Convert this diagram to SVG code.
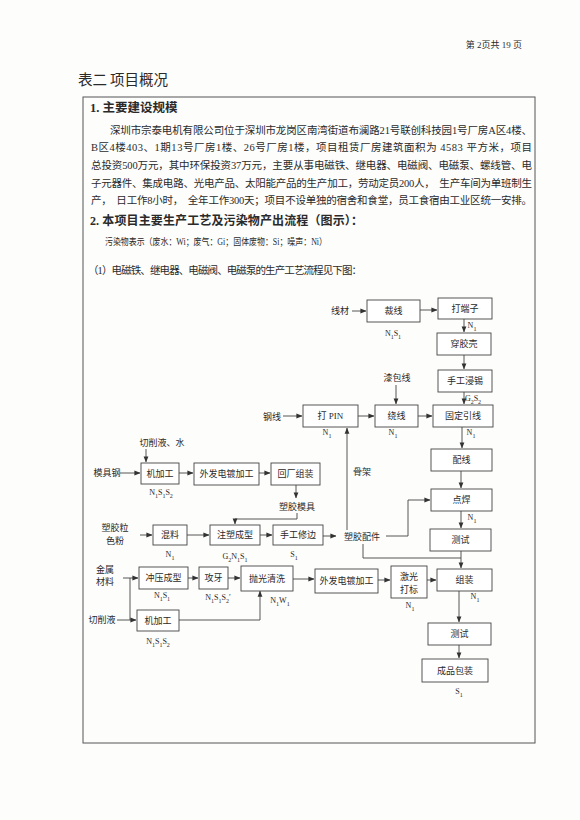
<svg xmlns="http://www.w3.org/2000/svg" width="580" height="820" viewBox="0 0 580 820">
<style>
text{font-family:"Liberation Serif","Noto Sans CJK SC",serif;fill:#2a2a2a}
.t{font-size:9px;text-anchor:middle}
.l{font-size:8px;text-anchor:middle}
.s{font-size:6px;baseline-shift:sub}
.b{fill:#fff;stroke:#444;stroke-width:0.9}
.c{fill:none;stroke:#444;stroke-width:0.9}
.a{marker-end:url(#ah)}
.p{font-size:10.5px}
</style>
<defs>
<marker id="ah" viewBox="0 0 8 8" refX="7.5" refY="4" markerWidth="6" markerHeight="6" orient="auto" markerUnits="userSpaceOnUse">
<path d="M0,0.8 L8,4 L0,7.2 Z" fill="#333"/>
</marker>
</defs>
<rect width="580" height="820" fill="#fdfdfc"/>
<text x="522" y="48" font-size="9" text-anchor="end">第 2页共 19 页</text>
<text x="78" y="85" font-size="14.5">表二</text>
<text x="110" y="85" font-size="14.5">项目概况</text>
<rect x="83" y="97" width="452" height="646" fill="none" stroke="#555" stroke-width="1"/>
<text x="90" y="112" font-size="12.5" font-weight="bold">1. 主要建设规模</text>
<text class="p" x="110" y="134" textLength="422" lengthAdjust="spacing">深圳市宗泰电机有限公司位于深圳市龙岗区南湾街道布澜路21号联创科技园1号厂房A区4楼、</text>
<text class="p" x="91" y="151" textLength="441" lengthAdjust="spacing">B区4楼403、1期13号厂房1楼、26号厂房1楼，项目租赁厂房建筑面积为 4583 平方米，项目</text>
<text class="p" x="91" y="169" textLength="441" lengthAdjust="spacing">总投资500万元，其中环保投资37万元，主要从事电磁铁、继电器、电磁阀、电磁泵、螺线管、电</text>
<text class="p" x="91" y="187" textLength="441" lengthAdjust="spacing" xml:space="preserve">子元器件、集成电路、光电产品、太阳能产品的生产加工，劳动定员200人，  生产车间为单班制生</text>
<text class="p" x="91" y="204" textLength="441" lengthAdjust="spacing" xml:space="preserve">产，  日工作8小时，  全年工作300天；项目不设单独的宿舍和食堂，员工食宿由工业区统一安排。</text>
<text x="90" y="225" font-size="12" font-weight="bold" textLength="273" lengthAdjust="spacing">2. 本项目主要生产工艺及污染物产出流程（图示）：</text>
<text x="105" y="245" font-size="9.5" textLength="222" lengthAdjust="spacingAndGlyphs">污染物表示（废水：Wi；废气：Gi；固体废物：Si；噪声：Ni）</text>
<text x="88" y="274" font-size="10.5" textLength="274" lengthAdjust="spacing">（1）电磁铁、继电器、电磁阀、电磁泵的生产工艺流程见下图：</text>

<g id="connectors">
<path class="c a" d="M352 311 H366"/>
<path class="c a" d="M420 310 H437"/>
<path class="c a" d="M464 319 V332"/>
<path class="c a" d="M464 355 V369"/>
<path class="c a" d="M464 392 V404"/>
<path class="c a" d="M396 385 V404"/>
<path class="c a" d="M418 416 H432"/>
<path class="c a" d="M358 416 H374"/>
<path class="c a" d="M283 416 H302"/>
<path class="c a" d="M462 427 V448"/>
<path class="c a" d="M461 471 V488"/>
<path class="c a" d="M461 511 V528"/>
<path class="c a" d="M461 551 V568"/>
<path class="c" d="M363 544 V558 H461"/>
<path class="c a" d="M386 536 H408 V500 H430"/>
<path class="c a" d="M347 530 V428"/>
<path class="c a" d="M323 536 H336"/>
<path class="c a" d="M120 473 H140"/>
<path class="c a" d="M146 449 V462"/>
<path class="c a" d="M179 473 H193"/>
<path class="c a" d="M259 473 H270"/>
<path class="c a" d="M296 485 V498"/>
<path class="c a" d="M297 513 V519 H235 V524"/>
<path class="c a" d="M140 535 H152"/>
<path class="c a" d="M187 535 H209"/>
<path class="c a" d="M260 535 H272"/>
<path class="c a" d="M123 578 H138"/>
<path class="c a" d="M130 578 V620 H136"/>
<path class="c" d="M117 620 H130"/>
<path class="c a" d="M188 578 H198"/>
<path class="c a" d="M228 578 H240"/>
<path class="c a" d="M179 620 H260 V591"/>
<path class="c a" d="M293 579 H314"/>
<path class="c a" d="M378 580 H390"/>
<path class="c a" d="M427 580 H436"/>
<path class="c a" d="M459 591 V622"/>
<path class="c a" d="M459 645 V658"/>
</g>

<g id="n-caixian"><rect class="b" x="367" y="300" width="53" height="22"/><text class="t" x="393.5" y="314">裁线</text><text class="l" x="393" y="336">N<tspan class="s">1</tspan>S<tspan class="s">1</tspan></text></g>
<g id="n-duanzi"><rect class="b" x="438" y="298" width="54" height="21"/><text class="t" x="465" y="312">打端子</text><text class="l" x="472" y="328">N<tspan class="s">1</tspan></text></g>
<g id="n-chuanjiaoke"><rect class="b" x="437" y="333" width="54" height="22"/><text class="t" x="464" y="347">穿胶壳</text></g>
<g id="n-jinxi"><rect class="b" x="438" y="370" width="54" height="22"/><text class="t" x="465" y="384">手工浸锡</text><text class="l" x="473" y="401">G<tspan class="s">2</tspan>S<tspan class="s">2</tspan></text></g>
<g id="n-gudingyinxian"><rect class="b" x="433" y="405" width="60" height="22"/><text class="t" x="463" y="419">固定引线</text><text class="l" x="471" y="435">N<tspan class="s">1</tspan></text></g>
<g id="n-raoxian"><rect class="b" x="375" y="405" width="43" height="22"/><text class="t" x="396.5" y="419">绕线</text><text class="l" x="393" y="435">N<tspan class="s">1</tspan></text></g>
<g id="n-dapin"><rect class="b" x="303" y="405" width="55" height="22"/><text class="t" x="330.5" y="419">打 PIN</text><text class="l" x="327" y="435">N<tspan class="s">1</tspan></text></g>
<g id="n-peixian"><rect class="b" x="431" y="449" width="61" height="22"/><text class="t" x="461.5" y="463">配线</text></g>
<g id="n-dianhan"><rect class="b" x="431" y="489" width="61" height="22"/><text class="t" x="461.5" y="503">点焊</text><text class="l" x="472" y="520">N<tspan class="s">1</tspan></text></g>
<g id="n-ceshi1"><rect class="b" x="430" y="529" width="61" height="22"/><text class="t" x="460.5" y="543">测试</text></g>
<g id="n-zuzhuang"><rect class="b" x="437" y="569" width="55" height="22"/><text class="t" x="464.5" y="583">组装</text><text class="l" x="475" y="599">N<tspan class="s">1</tspan></text></g>
<g id="n-ceshi2"><rect class="b" x="428" y="623" width="63" height="22"/><text class="t" x="459.5" y="637">测试</text></g>
<g id="n-baozhuang"><rect class="b" x="422" y="659" width="66" height="23"/><text class="t" x="455" y="674">成品包装</text><text class="l" x="459" y="694">S<tspan class="s">1</tspan></text></g>
<g id="n-jiguang"><rect class="b" x="391" y="566" width="36" height="32"/><text class="t" x="409" y="580">激光</text><text class="t" x="409" y="593">打标</text><text class="l" x="410" y="608">N<tspan class="s">1</tspan></text></g>
<g id="n-waifa2"><rect class="b" x="315" y="569" width="63" height="24"/><text class="t" x="346.5" y="584">外发电镀加工</text></g>
<g id="n-paoguang"><rect class="b" x="241" y="566" width="52" height="25"/><text class="t" x="267" y="582" font-size="10">抛光清洗</text><text class="l" x="280" y="603">N<tspan class="s">1</tspan>W<tspan class="s">1</tspan></text></g>
<g id="n-gongya"><rect class="b" x="199" y="567" width="29" height="22"/><text class="t" x="213.5" y="581">攻牙</text><text class="l" x="218" y="600">N<tspan class="s">1</tspan>S<tspan class="s">1</tspan>S<tspan class="s">2</tspan>′</text></g>
<g id="n-chongya"><rect class="b" x="139" y="567" width="49" height="22"/><text class="t" x="163.5" y="581">冲压成型</text><text class="l" x="162" y="598">N<tspan class="s">1</tspan>S<tspan class="s">1</tspan></text></g>
<g id="n-jijiagong2"><rect class="b" x="137" y="610" width="42" height="21"/><text class="t" x="158" y="623.5">机加工</text><text class="l" x="158" y="644">N<tspan class="s">1</tspan>S<tspan class="s">1</tspan>S<tspan class="s">2</tspan></text></g>
<g id="n-hunliao"><rect class="b" x="153" y="525" width="34" height="20"/><text class="t" x="170" y="538">混料</text><text class="l" x="170" y="557">N<tspan class="s">1</tspan></text></g>
<g id="n-zhusu"><rect class="b" x="210" y="525" width="50" height="20"/><text class="t" x="235" y="538">注塑成型</text><text class="l" x="235" y="559">G<tspan class="s">2</tspan>N<tspan class="s">1</tspan>S<tspan class="s">1</tspan></text></g>
<g id="n-xiubian"><rect class="b" x="273" y="525" width="50" height="20"/><text class="t" x="298" y="538">手工修边</text><text class="l" x="294" y="557">S<tspan class="s">1</tspan></text></g>
<g id="n-jijiagong1"><rect class="b" x="141" y="463" width="38" height="21"/><text class="t" x="160" y="477">机加工</text><text class="l" x="161" y="495">N<tspan class="s">1</tspan>S<tspan class="s">1</tspan>S<tspan class="s">2</tspan></text></g>
<g id="n-waifa1"><rect class="b" x="194" y="463" width="65" height="22"/><text class="t" x="226.5" y="477">外发电镀加工</text></g>
<g id="n-huichang"><rect class="b" x="271" y="463" width="49" height="22"/><text class="t" x="295.5" y="477">回厂组装</text></g>

<g id="inputs">
<text class="t" x="340" y="314">线材</text>
<text class="t" x="397" y="381">漆包线</text>
<text class="t" x="272" y="420">钢线</text>
<text class="t" x="362" y="475">骨架</text>
<text class="t" x="362" y="540">塑胶配件</text>
<text class="t" x="297" y="510">塑胶模具</text>
<text class="t" x="162" y="446">切削液、水</text>
<text class="t" x="107" y="476">模具钢</text>
<text class="t" x="115" y="531">塑胶粒</text>
<text class="t" x="115" y="544">色粉</text>
<text class="t" x="105" y="573">金属</text>
<text class="t" x="105" y="585">材料</text>
<text class="t" x="102" y="623">切削液</text>
</g>
</svg>
